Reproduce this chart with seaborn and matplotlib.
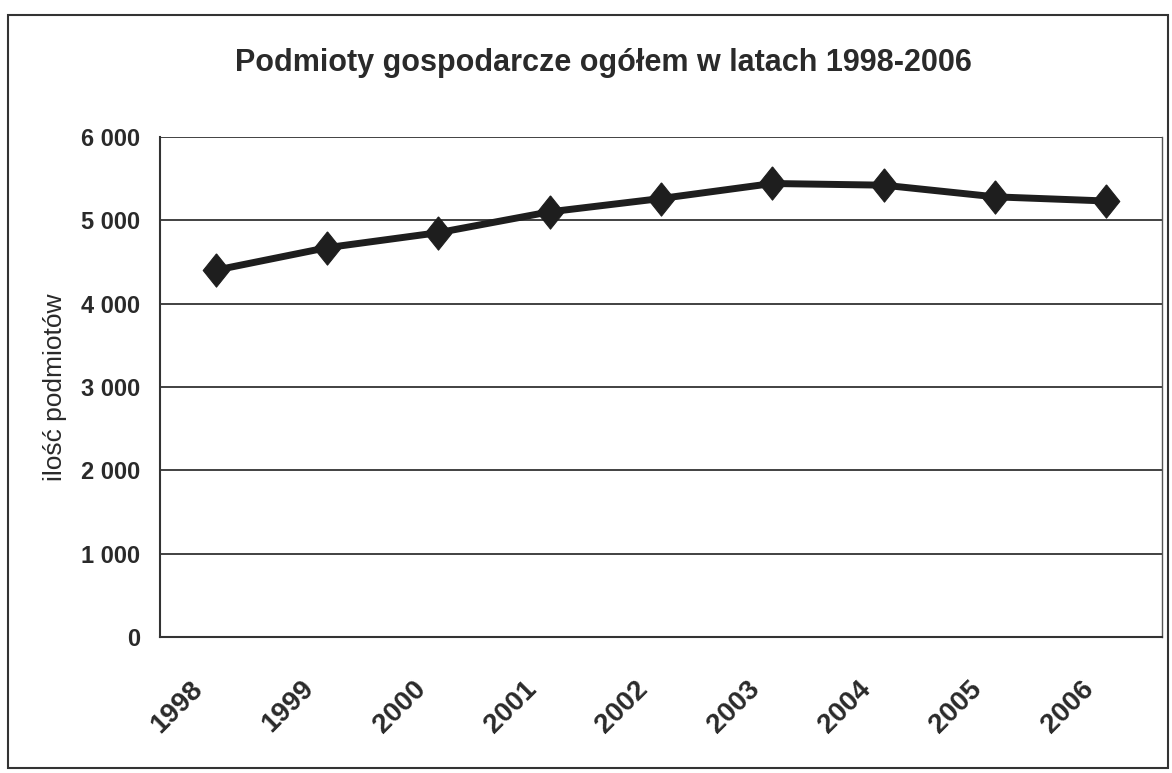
import matplotlib
matplotlib.use("Agg")
import matplotlib.pyplot as plt
import matplotlib.transforms as mtransforms
import seaborn as sns
import pandas as pd
from matplotlib.patches import Rectangle
from matplotlib.ticker import FuncFormatter, FixedLocator

years = ["1998", "1999", "2000", "2001", "2002", "2003", "2004", "2005", "2006"]
values = [4400, 4670, 4850, 5100, 5260, 5440, 5420, 5280, 5230]
title = "Podmioty gospodarcze ogółem w latach 1998-2006"
ylabel = "ilość podmiotów"

sns.set_style("white")
plt.rcParams["font.family"] = ["Liberation Sans", "DejaVu Sans"]

df = pd.DataFrame({"idx": range(len(years)), "val": values})

fig = plt.figure(figsize=(11.72, 7.73), dpi=100)
ax = fig.add_axes([0.1365, 0.176, 0.855, 0.647])

diamond = [(0, 1.0), (0.8, 0), (0, -1.0), (-0.8, 0), (0, 1.0)]
sns.lineplot(data=df, x="idx", y="val", ax=ax, color="#1e1e1e", linewidth=5,
             marker=diamond, markersize=24, markeredgecolor="#1e1e1e", markerfacecolor="#1e1e1e")

ax.set_xlim(-0.5, len(years) - 0.5)
ax.set_ylim(0, 6000)
ax.set_yticks(range(0, 6001, 1000))
ax.yaxis.set_major_formatter(FuncFormatter(lambda v, p: f"{int(v):,}".replace(",", " ")))
ax.yaxis.grid(True, color="#333333", linewidth=1.3)
ax.xaxis.grid(False)
ax.set_axisbelow(True)

ax.xaxis.set_major_locator(FixedLocator([i - 0.5 for i in range(len(years) + 1)]))
ax.xaxis.set_major_formatter(FuncFormatter(lambda v, p: ""))
ax.xaxis.set_minor_locator(FixedLocator(list(range(len(years)))))
ax.set_xticklabels(years, minor=True, rotation=45, ha="right", rotation_mode="anchor",
                   fontsize=20, fontweight="bold", color="#2a2a2a")
ax.tick_params(axis="x", which="minor", length=0, pad=28)
offset = mtransforms.ScaledTranslation(-26 / 100, 0, fig.dpi_scale_trans)
for lbl in ax.get_xticklabels(minor=True):
    lbl.set_transform(lbl.get_transform() + offset)
ax.tick_params(axis="x", which="major", length=9, width=1.3, color="#333333", direction="out")
ax.tick_params(axis="y", length=8, width=1.3, color="#333333", labelsize=17, pad=6)
for lbl in ax.get_yticklabels():
    lbl.set_fontweight("bold")
    lbl.set_color("#2a2a2a")

for s in ["left", "bottom"]:
    ax.spines[s].set_color("#333333")
    ax.spines[s].set_linewidth(1.5)
ax.spines["top"].set_visible(False)
ax.spines["right"].set_color("#555555")
ax.spines["right"].set_linewidth(1.0)

ax.set_xlabel("")
ax.set_ylabel(ylabel, fontsize=19, color="#2a2a2a", labelpad=10)

fig.text(0.515, 0.918, title, ha="center", va="center", fontsize=22, fontweight="bold", color="#2a2a2a")

fig.patches.append(Rectangle((0.007, 0.006), 0.99, 0.975, transform=fig.transFigure,
                             fill=False, edgecolor="#333333", linewidth=1.5))

fig.savefig("out.png", dpi=100)
